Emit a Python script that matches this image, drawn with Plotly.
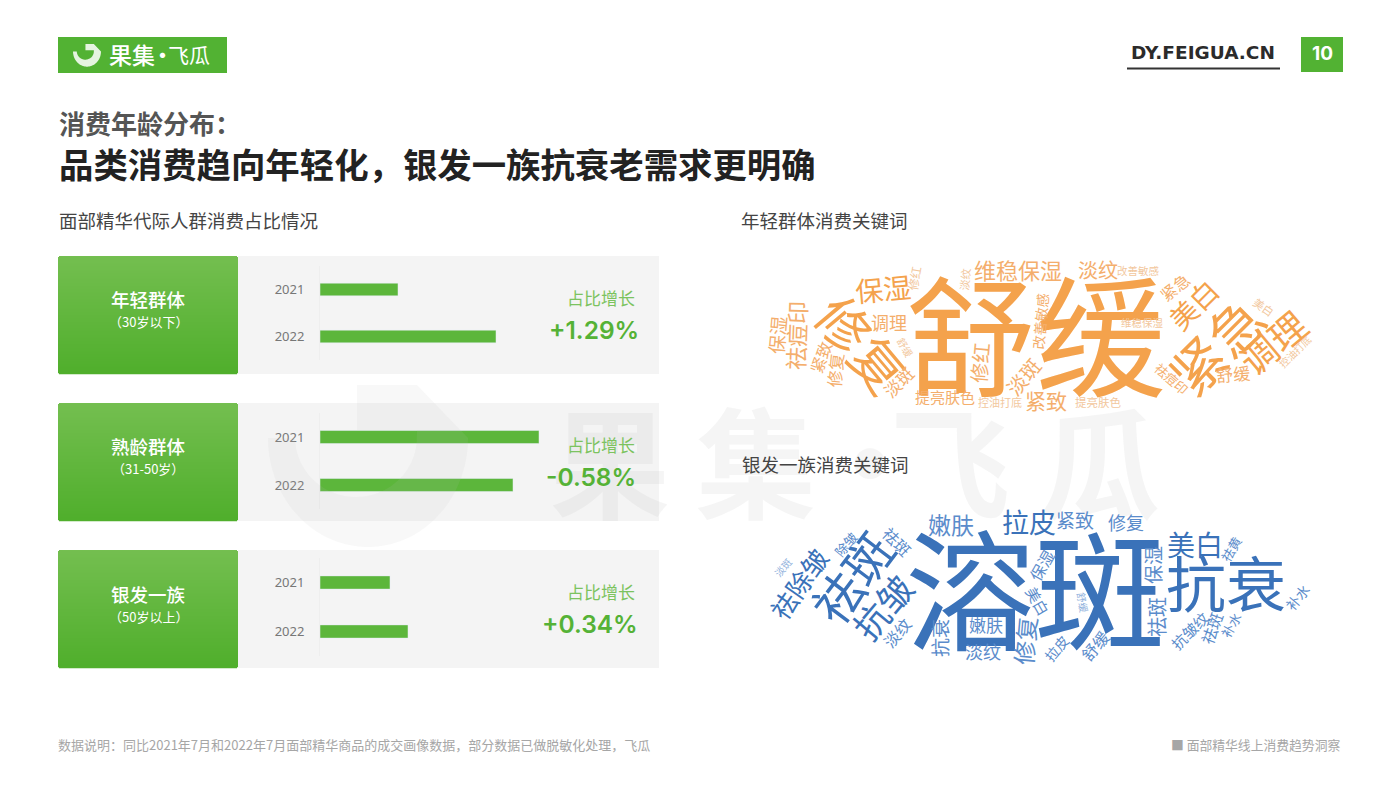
import numpy as np
import plotly.graph_objects as go

W = 1400
H = 788
CJK = "Noto Sans CJK SC"
GREEN = "#52B233"

# bar data (share of spend)
years = ["2021", "2022"]
young_vals = [78, 176]
mature_vals = [219, 193]
silver_vals = [70, 88]

group_names = ["年轻群体", "熟龄群体", "银发一族"]
group_ages = ["（30岁以下）", "（31-50岁）", "（50岁以上）"]
growth_labels = ["+1.29%", "-0.58%", "+0.34%"]

young_words = ["舒缓", "紧急", "修复", "保湿", "维稳保湿", "淡纹", "改善敏感", "紧急", "美白", "调理",
               "舒缓", "祛痘印", "美白", "控油打底", "保湿", "祛痘印", "紧致", "修复", "调理", "舒缓",
               "淡斑", "修红", "淡纹", "修红", "提亮肤色", "控油打底", "紧致", "提亮肤色", "淡斑",
               "改善敏感", "维稳保湿"]
silver_words = ["溶斑", "抗衰", "祛斑", "抗皱", "祛除皱", "除皱", "淡斑", "祛斑", "嫩肤", "拉皮",
                "紧致", "修复", "美白", "祛黄", "保湿", "祛斑", "保湿", "美白", "修复", "嫩肤",
                "抗衰", "淡纹", "淡纹", "舒缓", "拉皮", "舒缓", "抗皱纹", "祛斑", "补水", "补水"]

# where each cloud word sits: centre x, centre y, size, angle
young_place = [(1036, 336, 130, 0), (1217, 346, 54, -45), (861, 345, 53, 50), (883, 289, 28, -5),
               (1018, 270, 22, 0), (1098, 270, 20, 0), (1138, 271, 10.5, 0), (1175, 288, 16, -38),
               (1194, 305, 28, -45), (1273, 343, 37, -40), (1233, 374, 17, -5), (1171, 379, 13, 41),
               (1264, 307, 11, 35), (1295, 352, 10, -45), (778, 335, 19, -85), (797, 335, 23, -88),
               (821, 357, 16, -70), (836, 370, 17, -85), (889, 323, 18, 0), (905, 348, 10, 60),
               (899, 382, 17, -45), (915, 278, 12, -80), (965, 279, 11, -85), (981, 363, 20, -85),
               (945, 397, 15, 0), (1000, 403, 11, 0), (1046, 401, 21, 0), (1098, 403, 11.5, 0),
               (1024, 377, 20, -50), (1041, 321, 14, -85), (1142, 323, 10.5, 0)]
silver_place = [(1035, 589, 130, 0), (1226, 583, 60, 0), (853, 578, 49, -53), (883, 608, 35, -50),
                (799, 584, 26, -55), (846, 545, 13, -50), (783, 568, 10, -50), (896, 542, 16, 45),
                (951, 525, 23, 0), (1029, 523, 27, 0), (1075, 520, 19, 0), (1126, 523, 18, 0),
                (1195, 545, 28, 0), (1232, 549, 13, -60), (1153, 565, 19, -90), (1157, 617, 20, -90),
                (1042, 565, 16, -60), (1037, 601, 15, 60), (1026, 641, 24, -85), (986, 625, 17, 0),
                (940, 638, 19, -90), (983, 652, 18, 0), (898, 633, 16, -50), (1082, 603, 10, 80),
                (1057, 648, 14, -50), (1096, 646, 16, -50), (1190, 631, 15, -45), (1212, 628, 16, -70),
                (1232, 625, 13, -60), (1298, 597, 14, -50)]


def px(x):
    return x / W


def py(y):
    return 1 - y / H


def rect(x0, y0, x1, y1, color, layer="below"):
    return dict(type="rect", xref="paper", yref="paper", x0=px(x0), x1=px(x1), y0=py(y0), y1=py(y1),
                fillcolor=color, line_width=0, layer=layer)


def label(x, y, text, size, color, weight=400, anchor="center", family=CJK, angle=0):
    # the CJK line box sits a little high of the glyphs, and annotations pad their edges
    a = np.radians(angle)
    x = x + np.sin(a) * size * 0.05
    y = y - np.cos(a) * size * 0.05
    if anchor == "left":
        x -= 3
    if anchor == "right":
        x += 2
    return dict(xref="paper", yref="paper", x=px(x), y=py(y), text=text, showarrow=False,
                xanchor=anchor, yanchor="middle", textangle=angle,
                font=dict(family=family, size=size, color=color, weight=weight))


def logo_path(x0, y0, scale):
    # ring logo, drawn in the 200px wide watermark's own coordinates
    a = np.linspace(np.pi, 0, 50)
    outer_x = 368 + 100 * np.cos(a)
    outer_y = 438 + 109 * np.sin(a)
    b = np.linspace(0.12, np.pi - 0.02, 40)
    inner_x = 356 + 61 * np.cos(b)
    inner_y = 437 + 60 * np.sin(b)
    xs = list(outer_x) + [417, 357, 357, 417] + list(inner_x)
    ys = list(outer_y) + [385, 385, 430, 430] + list(inner_y)
    pts = []
    for x, y in zip(xs, ys):
        pts.append((px(x0 + (x - 268) * scale), py(y0 + (y - 385) * scale)))
    return "M" + "L".join("%.5f,%.5f" % p for p in pts) + "Z"


fig = go.Figure()

# three little bar charts
panel_vals = [young_vals, mature_vals, silver_vals]
panel_tops = [266, 413, 558]
panel_bottoms = [360, 509, 656]
for i in range(3):
    suffix = "" if i == 0 else str(i + 1)
    fig.add_trace(go.Bar(y=years, x=panel_vals[i], orientation="h", marker_color="#5CB63B",
                         width=0.27, xaxis="x" + suffix, yaxis="y" + suffix,
                         showlegend=False, hoverinfo="skip"))
    fig.layout["xaxis" + suffix] = dict(domain=[px(320), px(660)], range=[0, 340], visible=False,
                                        anchor="y" + suffix)
    fig.layout["yaxis" + suffix] = dict(domain=[py(panel_bottoms[i]), py(panel_tops[i])],
                                        range=[1.5, -0.5], type="category", anchor="x" + suffix,
                                        showline=True, linecolor="#EEEEEE", linewidth=1, showgrid=False,
                                        zeroline=False, ticks="", ticklabelstandoff=12,
                                        tickfont=dict(family="Noto Sans", size=13, color="#777777"))

shapes = []
panel_y = [256, 403, 550]
for top in panel_y:
    shapes.append(rect(238, top, 659, top + 118, "#F4F4F4"))
    # vertical gradient of the green tile, one pixel strip at a time
    for row in range(118):
        t = row / 117
        c = (int(116 - 36 * t), int(191 - 16 * t), int(80 - 36 * t))
        inset = 1 if row in (0, 117) else 0
        shapes.append(rect(58 + inset, top + row, 238 - inset, top + row + 1.2, "rgb(%d,%d,%d)" % c))

# header furniture
shapes.append(rect(58, 37, 227, 73, GREEN))
shapes.append(rect(1301, 37, 1343, 72, GREEN))
shapes.append(rect(1127, 67.5, 1280, 69.5, "#333333"))
shapes.append(dict(type="path", xref="paper", yref="paper", path=logo_path(73, 44, 0.14),
                   fillcolor="rgba(255,255,255,0.85)", line_width=0, layer="above"))
# big watermark ring
shapes.append(dict(type="path", xref="paper", yref="paper", path=logo_path(268, 385, 1),
                   fillcolor="rgba(190,190,190,0.11)", line_width=0, layer="above"))

notes = []

# watermark text goes first so everything else stays on top of it
mark = "rgba(190,190,190,0.15)"
notes.append(label(610, 464, "果", 120, mark, 700))
notes.append(label(756, 464, "集", 120, mark, 700))
notes.append(label(870, 464, "·", 120, mark, 700))
notes.append(label(950, 464, "飞", 120, mark, 700))
notes.append(label(1100, 464, "瓜", 120, mark, 700))

# header
notes.append(label(110, 55, "果集", 23, "white", 500, "left"))
notes.append(label(162, 55, "·", 21, "white", 700))
notes.append(label(169, 55, "飞瓜", 21, "white", 400, "left"))
notes.append(label(1203, 53, "DY.FEIGUA.CN", 18.5, "#2B2B2B", 700, family="DejaVu Sans"))
notes.append(label(1322, 54, "10", 19, "white", 700, family="Inter"))

# titles
notes.append(label(60, 124, "消费年龄分布：", 26, "#555555", 700, "left"))
notes.append(label(60, 165, "品类消费趋向年轻化，银发一族抗衰老需求更明确", 34.4, "#222222", 700, "left"))
notes.append(label(60, 221, "面部精华代际人群消费占比情况", 18.5, "#444444", 400, "left"))
notes.append(label(742, 221, "年轻群体消费关键词", 18.5, "#444444", 400, "left"))
notes.append(label(743, 465, "银发一族消费关键词", 18.5, "#444444", 400, "left"))

# tile and panel texts
name_y = [300, 447, 595]
age_y = [322, 469, 617]
growth_y = [298, 445, 592]
value_y = [331, 478, 625]
value_x = [594, 591, 590]
for i in range(3):
    notes.append(label(148, name_y[i], group_names[i], 18.5, "white", 500))
    notes.append(label(148, age_y[i], group_ages[i], 13, "white"))
    notes.append(label(601, growth_y[i], "占比增长", 17, "#7CC35F"))
    notes.append(label(value_x[i], value_y[i], growth_labels[i], 24.5, "#55B236", 600, family="Inter"))


def cloud_color(size, full, mid, pale):
    if size >= 25:
        return full
    if size >= 13:
        return mid
    return pale


for word, (x, y, size, angle) in zip(young_words, young_place):
    notes.append(label(x, y, word, size, cloud_color(size, "#F4A24C", "#F4AE6C", "#F2C79D"), angle=angle))
for word, (x, y, size, angle) in zip(silver_words, silver_place):
    notes.append(label(x, y, word, size, cloud_color(size, "#3A72B9", "#5B8CCB", "#8FB1DC"), angle=angle))

# footer
notes.append(label(59, 745, "数据说明：同比2021年7月和2022年7月面部精华商品的成交画像数据，部分数据已做脱敏化处理，飞瓜",
                   13, "#A6A6A6", anchor="left"))
notes.append(label(1340, 745, "■ 面部精华线上消费趋势洞察", 12.8, "#A6A6A6", anchor="right"))

fig.update_layout(width=W, height=H, margin=dict(l=0, r=0, t=0, b=0), paper_bgcolor="white",
                  plot_bgcolor="rgba(0,0,0,0)", shapes=shapes, annotations=notes, bargap=0.73)

fig.write_html("out.html", config={"displayModeBar": False},
               post_script="document.body.style.margin='0';")
